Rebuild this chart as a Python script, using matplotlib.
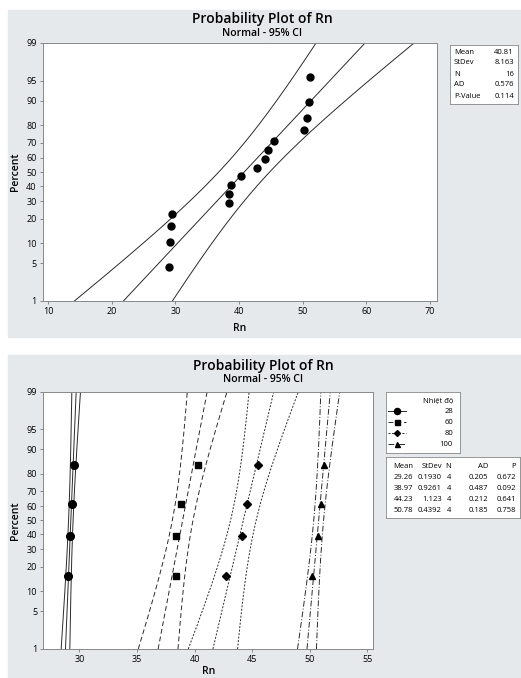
import numpy as np
import matplotlib
matplotlib.use('Agg')
import matplotlib.pyplot as plt
from matplotlib.patches import Rectangle
from statistics import NormalDist

plt.rcParams['font.family'] = ['Open Sans', 'DejaVu Sans']

# dữ liệu Rn theo nhiệt độ
nhiet_do = ['28', '60', '80', '100']
rn_28 = [29.03, 29.19, 29.32, 29.50]
rn_60 = [38.36, 38.41, 38.80, 40.31]
rn_80 = [42.76, 44.15, 44.56, 45.49]
rn_100 = [50.21, 50.70, 50.99, 51.22]
groups = [rn_28, rn_60, rn_80, rn_100]
rn_all = sorted(rn_28 + rn_60 + rn_80 + rn_100)

pct_ticks = [1, 5, 10, 20, 30, 40, 50, 60, 70, 80, 90, 95, 99]

# bảng thống kê hiển thị
stat_names = ['Mean', 'StDev', 'N', 'AD', 'P-Value']
stat_all = ['40.81', '8.163', '16', '0.576', '0.114']
tbl_head = ['Mean', 'StDev', 'N', 'AD', 'P']
tbl_mean = ['29.26', '38.97', '44.23', '50.78']
tbl_sd = ['0.1930', '0.9261', '1.123', '0.4392']
tbl_n = ['4', '4', '4', '4']
tbl_ad = ['0.205', '0.487', '0.212', '0.185']
tbl_p = ['0.672', '0.092', '0.641', '0.758']

W, H = 521, 678
nd = NormalDist()
BG = '#e6e9ec'
LC = '#2a2a2a'


def fwd(p):
    p = np.clip(np.asarray(p, float), 1e-4, 100 - 1e-4)
    return np.vectorize(lambda v: nd.inv_cdf(v / 100), otypes=[float])(p)


def inv(z):
    return np.vectorize(lambda v: nd.cdf(v) * 100, otypes=[float])(np.asarray(z, float))


def box(x0, y0, x1, y1):
    # toạ độ pixel -> figure
    return [x0 / W, 1 - y1 / H, (x1 - x0) / W, (y1 - y0) / H]


def ftext(x, y, s, **kw):
    fig.text(x / W, 1 - y / H, s, **kw)


def ranks(n):
    return [(i - 0.3) / (n + 0.4) * 100 for i in range(1, n + 1)]


def fit_ci(ax, vals, ls, lw=0.7):
    v = np.array(vals)
    n = len(v)
    m, s = v.mean(), v.std(ddof=1)
    p = np.linspace(1, 99, 300)
    z = fwd(p)
    half = 1.96 * s * np.sqrt(1 / n + z ** 2 / (2 * n))
    for x in (m + s * z, m + s * z - half, m + s * z + half):
        ax.plot(x, p, color=LC, lw=lw, linestyle=ls)


def style_axes(ax, xlim, xticks):
    ax.set_facecolor('white')
    ax.set_yscale('function', functions=(fwd, inv))
    ax.set_ylim(1, 99)
    ax.set_yticks(pct_ticks)
    ax.set_yticklabels([str(t) for t in pct_ticks])
    ax.minorticks_off()
    ax.set_xlim(*xlim)
    ax.set_xticks(xticks)
    ax.tick_params(labelsize=6.5, length=2.5, width=0.6, color='#777', pad=2)
    for sp in ax.spines.values():
        sp.set_color('#888')
        sp.set_linewidth(0.7)
    ax.set_ylabel('Percent', fontsize=7.5, fontweight='semibold', labelpad=4)


fig = plt.figure(figsize=(W / 100, H / 100), dpi=100)
fig.patch.set_facecolor('white')
fig.add_artist(Rectangle((8 / W, 1 - 337 / H), 513 / W, 327 / H,
                         transform=fig.transFigure, color=BG, zorder=-5))
fig.add_artist(Rectangle((8 / W, 0), 513 / W, (H - 355) / H,
                         transform=fig.transFigure, color=BG, zorder=-5))

# ---- biểu đồ trên ----
ax1 = fig.add_axes(box(43, 43, 437, 301))
style_axes(ax1, (9.2, 71.1), range(10, 71, 10))
fit_ci(ax1, rn_all, '-')
ax1.plot(rn_all, ranks(len(rn_all)), 'o', color='black', ms=5)
ax1.set_xlabel('Rn', fontsize=7.5, fontweight='semibold', labelpad=5)

ftext(262, 19, 'Probability Plot of Rn', ha='center', va='center', fontsize=10, fontweight='semibold')
ftext(262, 33, 'Normal - 95% CI', ha='center', va='center', fontsize=7.5, fontweight='semibold')

sb = fig.add_axes(box(450, 45, 518, 104))
sb.set_xticks([]); sb.set_yticks([])
sb.set_facecolor('white')
for sp in sb.spines.values():
    sp.set_color('#888'); sp.set_linewidth(0.6)
for i, (k, v) in enumerate(zip(stat_names, stat_all)):
    ftext(454, 52 + i * 11, k, ha='left', va='center', fontsize=5.5)
    ftext(514, 52 + i * 11, v, ha='right', va='center', fontsize=5.5)

# ---- biểu đồ dưới ----
ax2 = fig.add_axes(box(43.3, 391.7, 373, 649))
style_axes(ax2, (26.87, 55.5), range(30, 56, 5))
markers = ['o', 's', 'D', '^']
msizes = [5.5, 4.5, 3.8, 4.5]
styles = ['-', (0, (5, 3)), (0, (2, 1.6)), (0, (6, 2, 1, 2))]
for vals, mk, ms, ls in zip(groups, markers, msizes, styles):
    fit_ci(ax2, vals, ls)
    ax2.plot(sorted(vals), ranks(len(vals)), mk, color='black', ms=ms)
ax2.set_xlabel('Rn', fontsize=7.5, fontweight='semibold', labelpad=1)

ftext(263, 366, 'Probability Plot of Rn', ha='center', va='center', fontsize=10, fontweight='semibold')
ftext(263, 380, 'Normal - 95% CI', ha='center', va='center', fontsize=7.5, fontweight='semibold')

# chú thích nhiệt độ
lg = fig.add_axes(box(386, 392, 460, 453))
lg.set_xlim(386, 460); lg.set_ylim(453, 392)
lg.set_xticks([]); lg.set_yticks([])
lg.set_facecolor('white')
for sp in lg.spines.values():
    sp.set_color('#888'); sp.set_linewidth(0.6)
lg.text(453, 401, 'Nhiệt độ', ha='right', va='center', fontsize=5.5)
for i, (lab, mk, ms, ls) in enumerate(zip(nhiet_do, markers, msizes, styles)):
    yy = 411 + i * 11
    lg.plot([388, 406], [yy, yy], color=LC, lw=0.7, linestyle=ls)
    lg.plot([397], [yy], mk, color='black', ms=ms * 0.8)
    lg.text(453, yy, lab, ha='right', va='center', fontsize=5.5)

tb = fig.add_axes(box(386, 457, 520, 518))
tb.set_xticks([]); tb.set_yticks([])
tb.set_facecolor('white')
for sp in tb.spines.values():
    sp.set_color('#888'); sp.set_linewidth(0.6)
col_x = [413, 442, 451, 488, 516]
for h, cx in zip(tbl_head, col_x):
    ftext(cx, 467, h, ha='right', va='center', fontsize=5.5)
for r in range(4):
    row = [tbl_mean[r], tbl_sd[r], tbl_n[r], tbl_ad[r], tbl_p[r]]
    for v, cx in zip(row, col_x):
        ftext(cx, 477.5 + r * 11, v, ha='right', va='center', fontsize=5.5)

fig.savefig('out.png', dpi=100)
